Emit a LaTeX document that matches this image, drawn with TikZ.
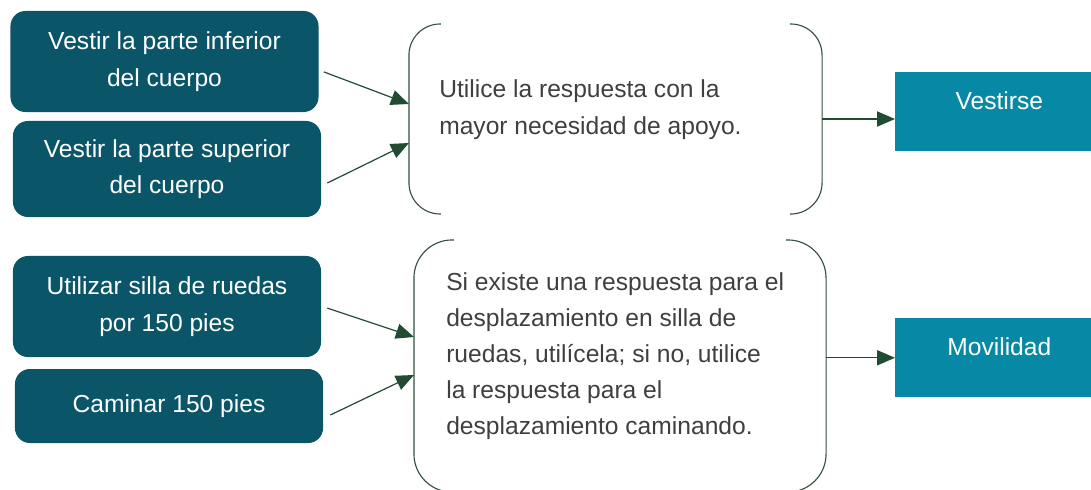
\documentclass[tikz,border=0pt]{standalone}
\usepackage{fontspec}
\setmainfont{Liberation Sans}
\usepackage{tikz}
\usetikzlibrary{arrows.meta}
\usetikzlibrary{positioning}

\definecolor{itemteal}{HTML}{0A5568}
\definecolor{catteal}{HTML}{0789A6}
\definecolor{rulegray}{HTML}{3F3F3F}
\definecolor{linkgreen}{HTML}{234A32}
\definecolor{bracegreen}{HTML}{34503F}

\begin{document}
\begin{tikzpicture}[x=0.025cm, y=-0.025cm,
    itembox/.style={fill=itemteal, rounded corners=0.375cm, text=white, align=center,
      minimum width=7.7cm, inner sep=0pt, font=\fontsize{17.5}{26}\selectfont},
    catbox/.style={fill=catteal, text=white, anchor=north west, minimum width=5.2cm,
      inner sep=0pt, text height=0.925cm, text depth=1.05cm, font=\fontsize{17.5}{26}\selectfont},
    span/.style={inner sep=0pt, outer sep=0pt},
    ruletext/.style={anchor=north west, inner sep=0pt, align=left, text=rulegray,
      font=\fontsize{17.5}{26.5}\selectfont},
    brace/.style={draw=bracegreen, line width=0.8pt},
    link/.style={draw=linkgreen, line width=0.85pt, -{Triangle[length=0.45cm,width=0.38cm]}}]

  \useasboundingbox (0,0) rectangle (1091,489);

  % items
  \node[itembox, minimum height=2.525cm] (inf) at (164.5,61.5) {Vestir la parte inferior\\del cuerpo};
  \node[itembox, minimum height=2.4cm] (sup) at (167,169) {Vestir la parte superior\\del cuerpo};
  \node[itembox, minimum height=2.525cm] (silla) at (167,306.5) {Utilizar silla de ruedas\\por 150 pies};
  \node[itembox, minimum height=1.85cm] (cam) at (169,406) {Caminar 150 pies};

  % rules
  \node[span, minimum width=10.325cm, minimum height=4.75cm] (regla1) at (615.5,119) {};
  \node[span, minimum width=10.3cm, minimum height=6.3cm] (regla2) at (620,366) {};

  \begin{scope}[rounded corners=0.78cm]
    \draw[brace] ([xshift=0.8cm]regla1.north west) -- (regla1.north west)
      -- (regla1.south west) -- ([xshift=0.8cm]regla1.south west);
    \draw[brace] ([xshift=-0.8cm]regla1.north east) -- (regla1.north east)
      -- (regla1.south east) -- ([xshift=-0.8cm]regla1.south east);
  \end{scope}
  \begin{scope}[rounded corners=0.95cm]
    \draw[brace] ([xshift=1cm]regla2.north west) -- (regla2.north west)
      -- (regla2.south west) -- ([xshift=1cm]regla2.south west);
    \draw[brace] ([xshift=-1cm]regla2.north east) -- (regla2.north east)
      -- (regla2.south east) -- ([xshift=-1cm]regla2.south east);
  \end{scope}

  \node[ruletext] (txt1) at (439,79) {Utilice la respuesta con la\\mayor necesidad de apoyo.};
  \node[ruletext, font=\fontsize{17.5}{25.7}\selectfont] (txt2) at (446,272) {Si existe una respuesta para el\\desplazamiento en silla de\\ruedas, utilícela; si no, utilice\\la respuesta para el\\desplazamiento caminando.};

  % categories
  \node[catbox] (vest) at (895,72) {Vestirse};
  \node[catbox] (mov) at (895,318) {Movilidad};

  \draw[link] ([xshift=0.125cm, yshift=-0.26cm]inf.east) -- ([yshift=0.375cm]regla1.west);
  \draw[link] ([xshift=0.15cm, yshift=-0.35cm]sup.east) -- ([yshift=-0.6cm]regla1.west);
  \draw[link] ([xshift=0.15cm, yshift=-0.04cm]silla.east) -- ([yshift=0.725cm]regla2.west);
  \draw[link] ([xshift=0.175cm, yshift=-0.225cm]cam.east) -- ([yshift=-0.225cm]regla2.west);
  \draw[link] (regla1.east) -- (regla1.east -| vest.west);
  \draw[link] (regla2.east |- mov.west) -- (mov.west);
\end{tikzpicture}
\end{document}
